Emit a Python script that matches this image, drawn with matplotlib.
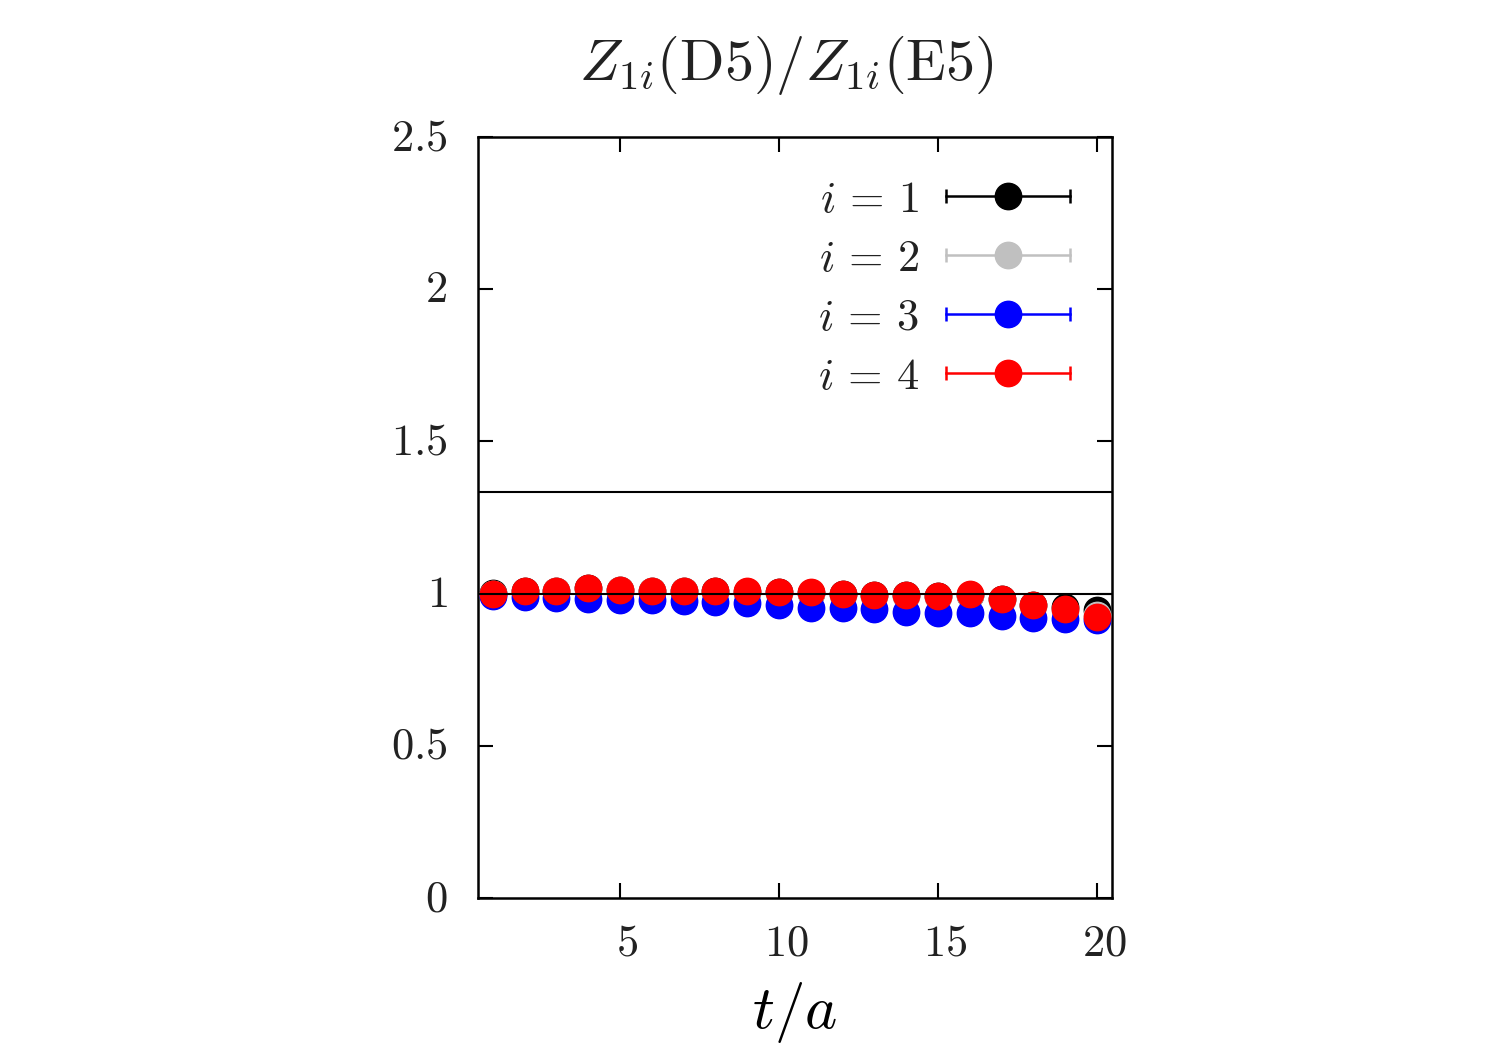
import numpy as np
import matplotlib
matplotlib.use("Agg")
import matplotlib.pyplot as plt
import matplotlib.transforms as mtransforms
from matplotlib.legend_handler import HandlerBase
from matplotlib.lines import Line2D

plt.rcParams['mathtext.fontset'] = 'cm'
plt.rcParams['font.family'] = ['DejaVu Serif']
plt.rcParams['text.color'] = '#222222'
plt.rcParams['xtick.labelcolor'] = '#222222'
plt.rcParams['ytick.labelcolor'] = '#222222'

# data
t = np.arange(1, 21)
z_i1 = [1.002, 1.007, 1.010, 1.017, 1.012, 1.010, 1.010, 1.008, 1.006, 1.004,
        1.003, 0.999, 0.996, 0.996, 0.993, 0.997, 0.982, 0.963, 0.956, 0.946]
z_i2 = [0.999, 1.006, 1.009, 1.016, 1.011, 1.009, 1.008, 1.006, 1.005, 1.003,
        1.001, 0.997, 0.993, 0.993, 0.990, 0.995, 0.980, 0.960, 0.946, 0.930]
z_i3 = [0.993, 0.988, 0.985, 0.983, 0.980, 0.980, 0.977, 0.972, 0.968, 0.964,
        0.954, 0.952, 0.950, 0.940, 0.937, 0.935, 0.926, 0.921, 0.916, 0.914]
z_i4 = [1.000, 1.007, 1.010, 1.018, 1.012, 1.010, 1.010, 1.008, 1.007, 1.005,
        1.004, 0.999, 0.995, 0.995, 0.992, 0.998, 0.982, 0.962, 0.948, 0.922]
err = [0.002, 0.002, 0.002, 0.002, 0.002, 0.002, 0.002, 0.003, 0.003, 0.003,
       0.003, 0.003, 0.003, 0.004, 0.004, 0.004, 0.004, 0.005, 0.005, 0.006]

series = [z_i1, z_i2, z_i3, z_i4]
colors = ['black', '#c0c0c0', 'blue', 'red']
labels = [r'$i\,=\,1$', r'$i\,=\,2$', r'$i\,=\,3$', r'$i\,=\,4$']
ref_lines = [1.0, 4.0 / 3.0]
xticks = [5, 10, 15, 20]
yticks = [0, 0.5, 1, 1.5, 2, 2.5]


class CapLineHandler(HandlerBase):
    # gnuplot-like key: horizontal bar with end caps and a dot in the middle
    def create_artists(self, legend, orig_handle, xdescent, ydescent,
                       width, height, fontsize, trans):
        c = orig_handle.get_color()
        y = height / 2 - ydescent
        x0, x1 = -xdescent, width - xdescent
        bar = Line2D([x0, x1], [y, y], color=c, lw=1.8, transform=trans)
        caps = Line2D([x0, x1], [y, y], ls='none', marker='|', ms=10,
                      mew=1.8, color=c, transform=trans)
        dot = Line2D([(x0 + x1) / 2], [y], ls='none', marker='o', ms=19,
                     color=c, transform=trans)
        return [bar, caps, dot]


fig = plt.figure(figsize=(14.95, 10.46), dpi=100)
ax = fig.add_axes([0.3197, 0.1415, 0.4241, 0.7275])

for y, c in zip(series, colors):
    ax.errorbar(t, y, yerr=err, fmt='o', ms=19, color=c, ecolor=c,
                elinewidth=1.5, capsize=4, zorder=3)

for r in ref_lines:
    ax.axhline(r, color='black', lw=1.5, zorder=4)

ax.set_xlim(0.53, 20.47)
ax.set_ylim(0, 2.5)
ax.set_xticks(xticks)
ax.set_xticklabels([f'${v}$' for v in xticks])
ax.set_yticks(yticks)
ax.set_yticklabels([f'${v:g}$' for v in yticks])
ax.tick_params(direction='in', length=11, width=1.5, top=True, right=True,
               labelsize=32)
ax.tick_params(axis='x', pad=17)
ax.tick_params(axis='y', pad=22)
for lab in ax.get_xticklabels():
    lab.set_transform(lab.get_transform() +
                      mtransforms.ScaledTranslation(0.07, 0, fig.dpi_scale_trans))
for lab in ax.get_yticklabels():
    lab.set_transform(lab.get_transform() +
                      mtransforms.ScaledTranslation(0, 0.04, fig.dpi_scale_trans))
for s in ax.spines.values():
    s.set_linewidth(1.8)

ax.set_title(r'$Z_{1i}(\mathrm{D5})/Z_{1i}(\mathrm{E5})$', fontsize=42,
             x=0.486, pad=41)
ax.set_xlabel(r'$t/a$', fontsize=44, labelpad=11)

proxies = [Line2D([], [], color=c) for c in colors]
ax.legend(proxies, labels, handler_map={Line2D: CapLineHandler()},
          loc='upper right', bbox_to_anchor=(0.934, 0.947), frameon=False,
          fontsize=32, markerfirst=False, handlelength=2.8,
          handletextpad=0.6, labelspacing=0.36, borderpad=0, borderaxespad=0)

fig.savefig('out.png', dpi=100)
